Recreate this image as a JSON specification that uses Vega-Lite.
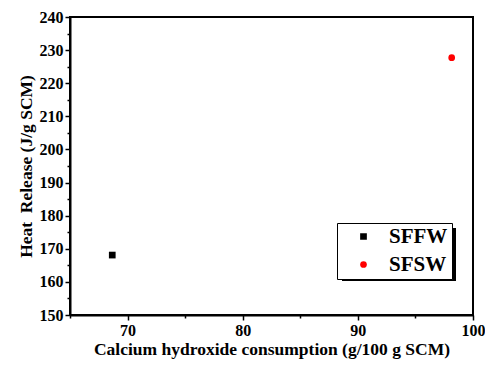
{
  "$schema": "https://vega.github.io/schema/vega-lite/v6.json",
  "width": 403,
  "height": 298,
  "autosize": "none",
  "padding": {"left": 70, "top": 17, "right": 12, "bottom": 52},
  "background": "white",
  "config": {
    "view": {"stroke": "black", "strokeWidth": 2},
    "font": "Liberation Serif",
    "axis": {
      "domainColor": "black", "domainWidth": 2, "tickColor": "black", "tickWidth": 1.5,
      "labelFont": "Liberation Serif", "labelFontWeight": "bold", "labelFontSize": 16, "labelColor": "black",
      "titleFont": "Liberation Serif", "titleFontWeight": "bold", "titleFontSize": 17.5, "titleColor": "black",
      "grid": false, "labelOverlap": false, "labelFlush": false
    },
    "legend": {"labelFont": "Liberation Serif", "labelFontWeight": "bold", "labelFontSize": 21, "labelColor": "black"}
  },
  "data": {"values": [
    {"series": "SFFW", "ch": 68.67, "heat": 168.1},
    {"series": "SFSW", "ch": 98.15, "heat": 227.7}
  ]},
  "encoding": {
    "x": {"field": "ch", "type": "quantitative",
      "scale": {"domain": [65, 100], "nice": false, "zero": false},
      "axis": {"title": "Calcium hydroxide consumption (g/100 g SCM)", "values": [65, 70, 75, 80, 85, 90, 95, 100],
        "labelExpr": "datum.value % 10 === 0 ? datum.label : ''",
        "tickSize": {"condition": {"test": "datum.value % 10 === 0", "value": 5}, "value": 3},
        "labelPadding": 2, "titlePadding": 2}},
    "y": {"field": "heat", "type": "quantitative",
      "scale": {"domain": [150, 240], "nice": false, "zero": false},
      "axis": {"title": "Heat\u00a0 Release (J/g SCM)", "values": [150, 155, 160, 165, 170, 175, 180, 185, 190, 195, 200, 205, 210, 215, 220, 225, 230, 235, 240],
        "labelExpr": "datum.value % 10 === 0 ? datum.label : ''",
        "tickSize": {"condition": {"test": "datum.value % 10 === 0", "value": 5}, "value": 3},
        "labelPadding": 2, "titlePadding": 4}}
  },
  "layer": [
    {
      "mark": {"type": "point", "filled": true, "opacity": 0},
      "encoding": {
        "color": {"field": "heat", "type": "quantitative",
          "scale": {"range": ["black", "black"]},
          "legend": {"title": null, "orient": "none", "legendX": 272, "legendY": 211, "zindex": 0,
            "direction": "vertical", "labelExpr": "''", "labelFontSize": 1, "labelOpacity": 0, "tickCount": 2, "padding": 0,
            "gradientLength": 53, "gradientThickness": 114, "gradientStrokeWidth": 0}}
      }
    },
    {
      "mark": {"type": "point", "filled": true, "opacity": 1},
      "encoding": {
        "fill": {"field": "series", "type": "nominal",
          "scale": {"domain": ["SFFW", "SFSW"], "range": ["black", "red"]},
          "legend": {"title": null, "orient": "none", "legendX": 267, "legendY": 206, "zindex": 1,
            "fillColor": "white", "strokeColor": "black", "padding": 4,
            "symbolSize": 45, "rowPadding": 6, "labelOffset": 15, "symbolOffset": 12, "labelLimit": 200, "clipHeight": 19}},
        "shape": {"field": "series", "type": "nominal",
          "scale": {"domain": ["SFFW", "SFSW"], "range": ["square", "circle"]}},
        "size": {"value": 45}
      }
    }
  ]
}
